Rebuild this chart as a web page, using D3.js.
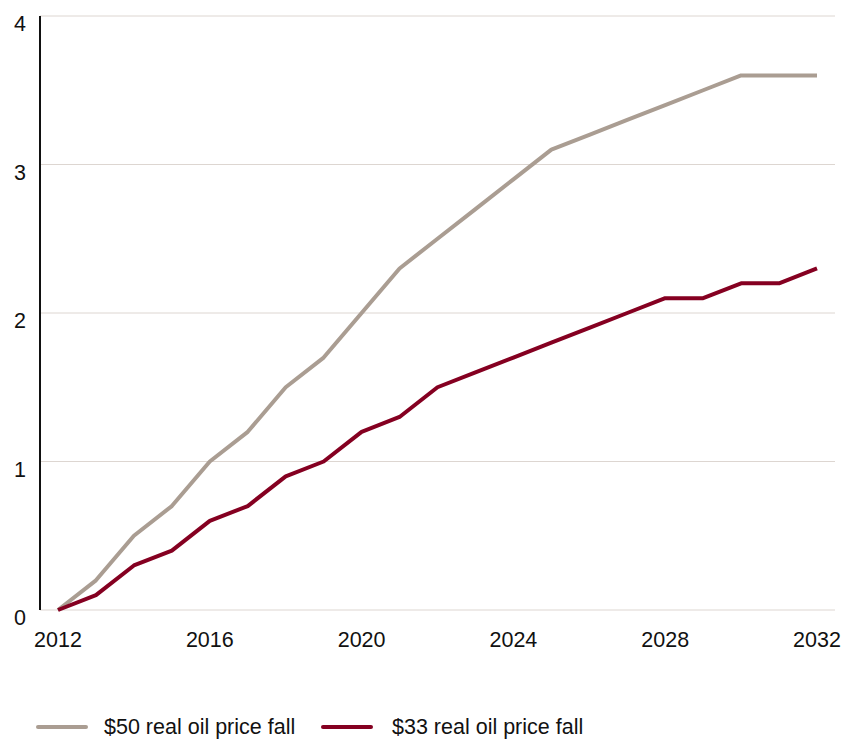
<!DOCTYPE html>
<html>
<head>
<meta charset="utf-8">
<script src="https://cdn.jsdelivr.net/npm/d3@7"></script>
<style>
  body { margin: 0; background: #fff; }
  text { font-family: "Liberation Sans", Arial, Helvetica, sans-serif; fill: #111; }
</style>
</head>
<body>
<script>
var years = d3.range(2012, 2033);
var fall50 = [0, 0.2, 0.5, 0.7, 1.0, 1.2, 1.5, 1.7, 2.0, 2.3, 2.5, 2.7, 2.9, 3.1, 3.2, 3.3, 3.4, 3.5, 3.6, 3.6, 3.6];
var fall33 = [0, 0.1, 0.3, 0.4, 0.6, 0.7, 0.9, 1.0, 1.2, 1.3, 1.5, 1.6, 1.7, 1.8, 1.9, 2.0, 2.1, 2.1, 2.2, 2.2, 2.3];
var xTicks = [2012, 2016, 2020, 2024, 2028, 2032];
var yTicks = [0, 1, 2, 3, 4];
var seriesNames = ["$50 real oil price fall", "$33 real oil price fall"];
var seriesColors = ["#aa9d92", "#850021"];

var width = 843;
var height = 739;

var svg = d3.select("body")
            .append("svg")
            .attr("width", width)
            .attr("height", height);

var x = d3.scaleLinear().domain([2012, 2032]).range([58, 817]);
var y = d3.scaleLinear().domain([0, 4]).range([610, 16]);

// gridlines
svg.selectAll("line.grid")
    .data(yTicks)
    .enter()
    .append("line")
    .attr("class", "grid")
    .attr("x1", 40)
    .attr("x2", 835)
    .attr("y1", function(d) { return y(d); })
    .attr("y2", function(d) { return y(d); })
    .attr("stroke", "#ddd6d1")
    .attr("stroke-width", 1);

// y axis line
svg.append("line")
    .attr("x1", 40)
    .attr("x2", 40)
    .attr("y1", y(4))
    .attr("y2", y(0))
    .attr("stroke", "#111")
    .attr("stroke-width", 2);

// y labels
svg.selectAll("text.ylab")
    .data(yTicks)
    .enter()
    .append("text")
    .attr("class", "ylab")
    .text(function(d) { return d; })
    .attr("x", 26)
    .attr("y", function(d) { return y(d) + 15; })
    .attr("text-anchor", "end")
    .attr("font-size", "21.5px");

// x labels
svg.selectAll("text.xlab")
    .data(xTicks)
    .enter()
    .append("text")
    .attr("class", "xlab")
    .text(function(d) { return d; })
    .attr("x", function(d) { return x(d); })
    .attr("y", 647)
    .attr("text-anchor", "middle")
    .attr("font-size", "21.5px");

var line = d3.line()
    .x(function(d, i) { return x(years[i]); })
    .y(function(d) { return y(d); });

svg.selectAll("path.series")
    .data([fall50, fall33])
    .enter()
    .append("path")
    .attr("class", "series")
    .attr("d", line)
    .attr("fill", "none")
    .attr("stroke", function(d, i) { return seriesColors[i]; })
    .attr("stroke-width", 4)
    .attr("stroke-linejoin", "round");

// legend
var legendX = [38, 323];
var legend = svg.selectAll("g.legend")
    .data(seriesNames)
    .enter()
    .append("g")
    .attr("class", "legend")
    .attr("transform", function(d, i) { return "translate(" + legendX[i] + ",727)"; });

legend.append("line")
    .attr("x1", 0)
    .attr("x2", 48)
    .attr("y1", 0)
    .attr("y2", 0)
    .attr("stroke", function(d, i) { return seriesColors[i]; })
    .attr("stroke-width", 4)
    .attr("stroke-linecap", "round");

legend.append("text")
    .text(function(d) { return d; })
    .attr("x", function(d, i) { return i === 0 ? 66 : 69; })
    .attr("y", 7)
    .attr("font-size", "21.5px");
</script>
</body>
</html>
